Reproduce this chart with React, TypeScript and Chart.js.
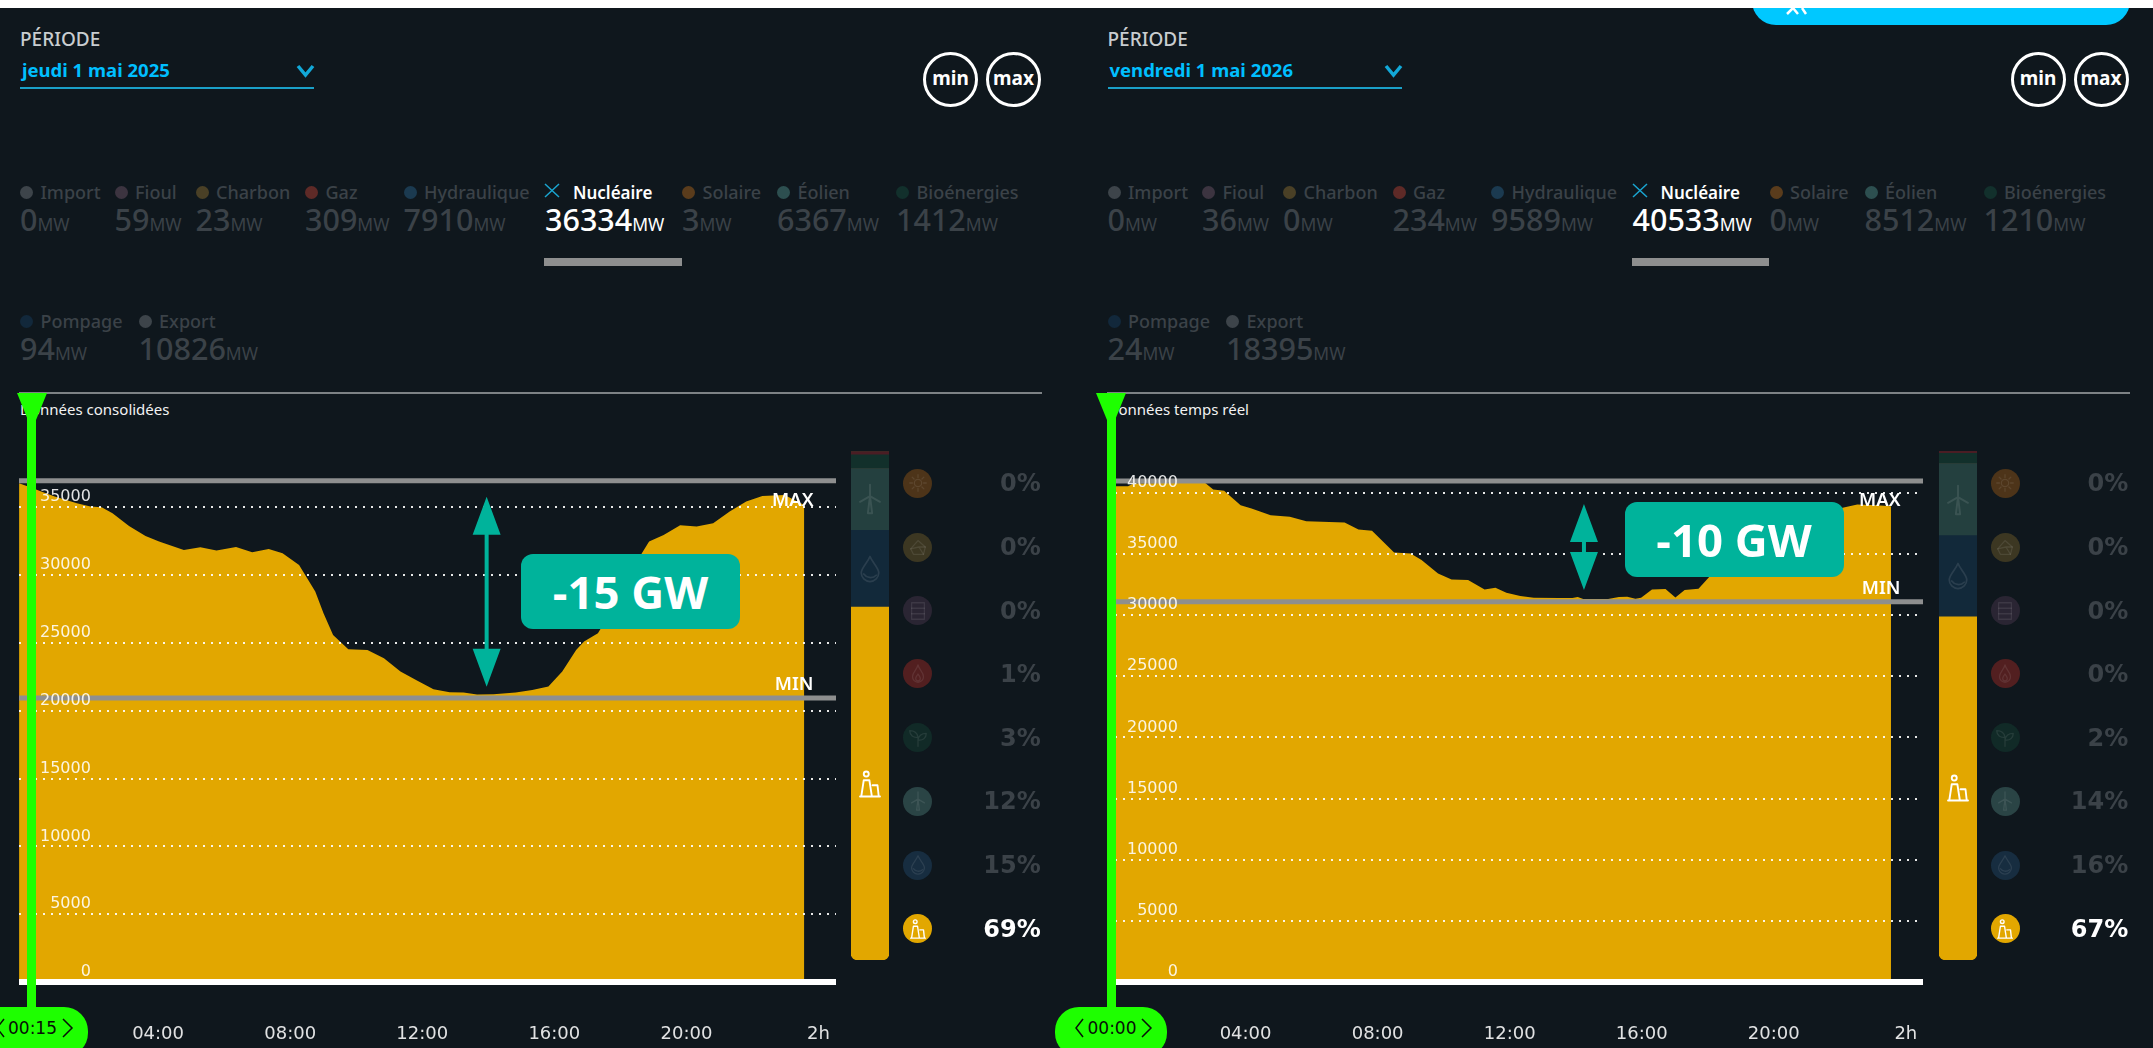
import React, { useEffect, useRef } from "react";
import { Chart, registerables } from "chart.js";

Chart.register(...registerables);

const hours2025 = [-0.21, 0.21, 0.46, 0.87, 1.54, 1.95, 2.29, 2.62, 3.12, 3.62, 4.03, 4.78, 5.28, 5.77, 6.36, 6.85, 7.35, 7.77, 8.27, 8.76, 9.01, 9.3, 9.76, 10.34, 10.84, 11.34, 11.84, 12.34, 12.83, 13.25, 13.66, 14.16, 14.83, 15.33, 15.82, 16.24, 16.66, 16.9, 17.32, 17.99, 18.4, 18.65, 18.87, 19.31, 19.81, 20.31, 20.81, 21.31, 21.81, 22.3, 22.97, 23.57];
const nuclear2025 = [36772, 36403, 36157, 35788, 35297, 35051, 35002, 34559, 33625, 32888, 32470, 31856, 32052, 31807, 32077, 31684, 31929, 31610, 30750, 28783, 27185, 25588, 24531, 24482, 23867, 22884, 22220, 21581, 21360, 21335, 21188, 21213, 21335, 21532, 21778, 22884, 24482, 25096, 25711, 28414, 30381, 31610, 32470, 32962, 33675, 33576, 33822, 34682, 35420, 35838, 35911, 35174];

const hours2026 = [0.06, 0.44, 0.61, 1.85, 2.77, 3.02, 3.35, 3.85, 4.18, 4.76, 5.34, 5.84, 7.0, 7.42, 7.83, 8.5, 9.0, 9.33, 9.83, 10.24, 10.74, 11.24, 11.57, 11.9, 12.32, 12.73, 13.48, 13.9, 14.06, 14.23, 14.98, 15.31, 15.56, 15.81, 15.98, 16.31, 16.72, 17.02, 17.3, 17.72, 18.05, 18.63, 19.3, 19.96, 20.62, 21.29, 22.12, 22.53, 23.12, 23.55];
const nuclear2026 = [40535, 40535, 40752, 40807, 40807, 40262, 40153, 38983, 38710, 38166, 38029, 37676, 37566, 36995, 36886, 35116, 35034, 34490, 33400, 32910, 32856, 32093, 32230, 31821, 31549, 31413, 31385, 31385, 31467, 31304, 31304, 31467, 31494, 31331, 31413, 32093, 32121, 31440, 32039, 32148, 33128, 34490, 35579, 36532, 37349, 38166, 38792, 39037, 38983, 38901];

const tickHours = [4, 8, 12, 16, 20, 24];
const tickLabels = ["04:00", "08:00", "12:00", "16:00", "20:00", "2h"];
const yTicks2025 = [0, 5000, 10000, 15000, 20000, 25000, 30000, 35000];
const yTicks2026 = [0, 5000, 10000, 15000, 20000, 25000, 30000, 35000, 40000];

const legendRow1 = ["Import", "Fioul", "Charbon", "Gaz", "Hydraulique", "Nucléaire", "Solaire", "Éolien", "Bioénergies"];
const legendRow2 = ["Pompage", "Export"];
const legendColors: Record<string, string> = {
  Import: "#3d444a", Fioul: "#3c3440", Charbon: "#4a4026", Gaz: "#5e2a27", Hydraulique: "#1b3a50",
  Solaire: "#5a3c1c", Éolien: "#2d4f50", Bioénergies: "#12302c", Pompage: "#12283b", Export: "#3d444a",
};
const mw2025: Record<string, number> = { Import: 0, Fioul: 59, Charbon: 23, Gaz: 309, Hydraulique: 7910, Nucléaire: 36334, Solaire: 3, Éolien: 6367, Bioénergies: 1412, Pompage: 94, Export: 10826 };
const mw2026: Record<string, number> = { Import: 0, Fioul: 36, Charbon: 0, Gaz: 234, Hydraulique: 9589, Nucléaire: 40533, Solaire: 0, Éolien: 8512, Bioénergies: 1210, Pompage: 24, Export: 18395 };

const shareRows = ["Solaire", "Charbon", "Fioul", "Gaz", "Bioénergies", "Éolien", "Hydraulique", "Nucléaire"];
const shareRowColors = ["#4d3419", "#3c3722", "#2a2533", "#521f20", "#112a27", "#2a4445", "#172d40", "#e2a700"];
const shares2025 = [0, 0, 0, 1, 3, 12, 15, 69];
const shares2026 = [0, 0, 0, 0, 2, 14, 16, 67];

const stackSources = ["Nucléaire", "Hydraulique", "Éolien", "Solaire", "Bioénergies", "Gaz", "Charbon", "Fioul"];
const stackColors = ["#e2a700", "#12293a", "#24403f", "#5c3d1e", "#12302b", "#4a1d24", "#3a3520", "#2e2535"];

const BG = "#0f171d";
const ORANGE = "#e2a700";
const GREEN = "#1eff00";
const TEAL = "#00b39b";
const GREY = "#8e8f8f";
const DIM = "#3b4248";
const SANS = "'Noto Sans', sans-serif";
const WIDE = "'DejaVu Sans', sans-serif";

function T({ x, y, size, weight = 400, color = "#fff", align = "left", font = SANS, children }: any) {
  const tx = align === "right" ? "-100%" : align === "center" ? "-50%" : "0";
  return (
    <div style={{ position: "absolute", left: x, top: y, transform: `translate(${tx},-50%)`, fontSize: size, fontWeight: weight, color, fontFamily: font, lineHeight: 1, whiteSpace: "nowrap" }}>
      {children}
    </div>
  );
}

function AreaChart({ c }: any) {
  const ref = useRef<HTMLCanvasElement>(null);
  useEffect(() => {
    const arrowPlugin = {
      id: "arrow",
      afterDraw(chart: any) {
        const { ctx, scales } = chart;
        const ax = scales.x.getPixelForValue(c.arrowHour);
        const t = scales.y.getPixelForValue(c.arrowTop);
        const b = scales.y.getPixelForValue(c.arrowBottom);
        const head = 38;
        const hw = 14;
        ctx.save();
        ctx.fillStyle = TEAL;
        ctx.fillRect(ax - 2, t + head - 1, 4, b - t - 2 * head + 2);
        ctx.beginPath();
        ctx.moveTo(ax, t);
        ctx.lineTo(ax + hw, t + head);
        ctx.lineTo(ax - hw, t + head);
        ctx.closePath();
        ctx.moveTo(ax, b);
        ctx.lineTo(ax + hw, b - head);
        ctx.lineTo(ax - hw, b - head);
        ctx.closePath();
        ctx.fill();
        ctx.restore();
      },
    };
    const line = (v: number, color: string, width: number) => ({
      data: [{ x: c.xMin, y: v }, { x: c.xMax, y: v }],
      borderColor: color,
      borderWidth: width,
      borderCapStyle: "butt",
      pointRadius: 0,
      fill: false,
      clip: false,
    });
    const chart = new Chart(ref.current as HTMLCanvasElement, {
      type: "line",
      data: {
        datasets: [
          line(0, "#ffffff", 6),
          line(c.maxLine, GREY, 5),
          line(c.minLine, GREY, 5),
          {
            data: c.hours.map((h: number, i: number) => ({ x: h, y: c.values[i] })),
            borderWidth: 0,
            pointRadius: 0,
            tension: 0,
            backgroundColor: ORANGE,
            fill: "origin",
          },
        ],
      },
      options: {
        animation: false,
        responsive: false,
        layout: { padding: { left: c.padLeft, right: c.padRight, top: c.padTop, bottom: 0 } },
        plugins: { legend: { display: false }, tooltip: { enabled: false } },
        scales: {
          x: {
            type: "linear",
            min: c.xMin,
            max: c.xMax,
            afterBuildTicks: (s: any) => { s.ticks = tickHours.map((value) => ({ value })); },
            afterFit: (s: any) => { s.height = 66; },
            grid: { display: false },
            border: { display: false },
            ticks: {
              autoSkip: false,
              maxRotation: 0,
              padding: 34,
              color: "rgba(255,255,255,0.88)",
              font: { family: "DejaVu Sans", size: 18 },
              callback: (v: any) => tickLabels[tickHours.indexOf(v)],
            },
          },
          y: {
            min: 0,
            max: c.yMax,
            afterBuildTicks: (s: any) => { s.ticks = c.yTicks.map((value: number) => ({ value })); },
            afterFit: (s: any) => { s.width = 0; },
            grid: {
              color: (ctx: any) => (ctx.tick && ctx.tick.value === 0 ? "rgba(0,0,0,0)" : "rgba(255,255,255,0.9)"),
              lineWidth: 2,
              z: 1,
              drawTicks: false,
            },
            border: { display: false, dash: [2, 6] },
            ticks: {
              autoSkip: false,
              mirror: true,
              crossAlign: "far",
              padding: c.tickPad,
              labelOffset: -10,
              z: 1,
              color: "rgba(255,255,255,0.88)",
              font: { family: "DejaVu Sans", size: 16 },
              callback: (v: any) => String(v),
            },
          },
        },
      },
      plugins: [arrowPlugin],
    } as any);
    return () => chart.destroy();
  }, []);
  return <canvas ref={ref} width={c.canvasW} height={1048} style={{ position: "absolute", left: c.canvasX, top: 0 }} />;
}

function MixBar({ x, mw }: any) {
  const ref = useRef<HTMLCanvasElement>(null);
  useEffect(() => {
    const total = stackSources.reduce((s, k) => s + mw[k], 0);
    const chart = new Chart(ref.current as HTMLCanvasElement, {
      type: "bar",
      data: {
        labels: ["mix"],
        datasets: stackSources.map((k, i) => ({
          label: k,
          data: [mw[k]],
          backgroundColor: stackColors[i],
          barPercentage: 1,
          categoryPercentage: 1,
          borderSkipped: false,
          borderRadius: i === 0 ? { topLeft: 0, topRight: 0, bottomLeft: 7, bottomRight: 7 } : 0,
        })),
      },
      options: {
        animation: false,
        responsive: false,
        plugins: { legend: { display: false }, tooltip: { enabled: false } },
        scales: {
          x: { stacked: true, display: false },
          y: { stacked: true, display: false, min: 0, max: total },
        },
      },
    } as any);
    return () => chart.destroy();
  }, []);
  return <canvas ref={ref} width={38} height={509} style={{ position: "absolute", left: x, top: 451 }} />;
}

function Icon({ name, cx, cy, size = 22, color = "rgba(255,255,255,0.09)" }: any) {
  const common = { fill: "none", stroke: color, strokeWidth: 1.4, strokeLinecap: "round", strokeLinejoin: "round" } as any;
  const parts: any = {
    Solaire: <g {...common}><circle cx="12" cy="12" r="4" /><path d="M12 3v3M12 18v3M3 12h3M18 12h3M5.6 5.6l2.1 2.1M16.3 16.3l2.1 2.1M5.6 18.4l2.1-2.1M16.3 7.7l2.1-2.1" /></g>,
    Charbon: <g {...common}><path d="M4 14l8-9 8 7-2 8H7z" /><path d="M4 14l9-2 5 8M13 12l7 0" /></g>,
    Fioul: <g {...common}><rect x="5" y="3" width="14" height="18" /><path d="M5 9h14M5 15h14" /></g>,
    Gaz: <g {...common}><path d="M12 2c1 5 6 8 6 13a6 6 0 0 1-12 0c0-5 5-8 6-13z" /><path d="M12 12c1 2 2.500 3 2.500 5a2.500 2.500 0 0 1-5 0c0-2 1.500-3 2.500-5z" /></g>,
    Bioénergies: <g {...common}><path d="M12 21v-10M12 11C11 6 7 4 3 4c0 5 4 8 9 7zM12 14c1-5 5-7 9-7 0 5-4 8-9 7z" /></g>,
    Éolien: <g {...common}><path d="M12 10L10.500 22h3L12 10zM12 10L12 2M12 10L19 14M12 10L5 14" /></g>,
    Hydraulique: <g {...common}><path d="M12 2c2 5 7 9 7 13a7 7 0 0 1-14 0c0-4 5-8 7-13z" /><path d="M7 16c2 3 7 4 10 1" /></g>,
    Nucléaire: <g fill="none" stroke="#fff" strokeWidth={1.5} strokeLinecap="round" strokeLinejoin="round"><circle cx="9" cy="4" r="2" /><path d="M5 22l2-13h4.500l2 13zM14 13h4l1 9h-5M4 22h16" /></g>,
  };
  return (
    <svg width={size} height={size} viewBox="0 0 24 24" style={{ position: "absolute", left: cx - size / 2, top: cy - size / 2 }}>
      {parts[name]}
    </svg>
  );
}

function LegendItem({ name, x, y, mw }: any) {
  const on = name === "Nucléaire";
  return (
    <>
      {on ? (
        <svg width={16} height={15} style={{ position: "absolute", left: x - 1, top: y - 9 }}>
          <path d="M1 1L15 14M15 1L1 14" stroke="#1aa5d0" strokeWidth={1.5} fill="none" />
        </svg>
      ) : (
        <div style={{ position: "absolute", left: x, top: y - 6, width: 13, height: 13, borderRadius: "50%", background: legendColors[name] }} />
      )}
      <T x={x + (on ? 28 : 20.5)} y={y} size={on ? 17 : 18} weight={on ? 600 : 500} color={on ? "#fff" : DIM}>{name}</T>
      <T x={x} y={y + 27} size={30.5} weight={500} color={on ? "#fff" : DIM}>
        {mw[name]}<span style={{ fontSize: 17.5, fontWeight: 400 }}>MW</span>
      </T>
    </>
  );
}

const row1Offsets = [0, 94.6, 175.6, 285, 383.6, 525, 662, 757, 876];
const row2Offsets = [0, 118.6];
const shareRowY = [483, 547, 610.5, 673.6, 737.5, 801, 865, 928.6];

function Panel({ dx, date, mw, shares, dataLabel, time, cursorX, chart, box, maxLabel, minLabel }: any) {
  const total = stackSources.reduce((s, k) => s + mw[k], 0);
  const segCenter = (name: string) => {
    let above = 0;
    for (let i = stackSources.length - 1; stackSources[i] !== name; i--) above += mw[stackSources[i]];
    return 451 + ((above + mw[name] / 2) / total) * 509;
  };
  return (
    <>
      <T x={20 + dx} y={39} size={19} weight={500} color="#c9cdd0">PÉRIODE</T>
      <T x={22 + dx} y={70} size={18.5} weight={700} color="#00bfff">{date}</T>
      <div style={{ position: "absolute", left: 20 + dx, top: 87, width: 294, height: 2, background: "#1aa0c8" }} />
      <svg width={20} height={16} style={{ position: "absolute", left: 296 + dx, top: 63 }}>
        <path d="M2 3L9.500 12L17 3" stroke="#12a8d8" strokeWidth={3.5} fill="none" />
      </svg>
      {[{ t: "min", cx: 950.5 }, { t: "max", cx: 1013.5 }].map((b) => (
        <div key={b.t} style={{ position: "absolute", left: b.cx + dx - 27.5, top: 52, width: 55, height: 55, boxSizing: "border-box", border: "3px solid #fff", borderRadius: "50%", color: "#fff", fontFamily: SANS, fontWeight: 700, fontSize: 19, lineHeight: "47px", textAlign: "center" }}>
          {b.t}
        </div>
      ))}

      {legendRow1.map((n, i) => <LegendItem key={n} name={n} x={20 + dx + row1Offsets[i]} y={192} mw={mw} />)}
      {legendRow2.map((n, i) => <LegendItem key={n} name={n} x={20 + dx + row2Offsets[i]} y={321} mw={mw} />)}
      <div style={{ position: "absolute", left: 544 + dx, top: 258, width: 137.5, height: 8, background: GREY }} />
      <div style={{ position: "absolute", left: 19 + dx, top: 392, width: 1023, height: 2, background: "#7d8285" }} />
      <T x={20 + dx} y={409} size={15} color="#f2f2f2">{dataLabel}</T>

      <AreaChart c={chart} />

      <T x={maxLabel[0]} y={maxLabel[1]} size={18.5} weight={600} align="right">MAX</T>
      <T x={minLabel[0]} y={minLabel[1]} size={18.5} weight={600} align="right">MIN</T>

      <div style={{ position: "absolute", left: box.x, top: box.y, width: box.w, height: box.h, borderRadius: 12, background: TEAL }} />
      <T x={box.x + box.w / 2} y={box.y + box.h / 2} size={45.5} weight={700} align="center" font="'Open Sans', sans-serif">{box.text}</T>

      <MixBar x={851 + dx} mw={mw} />
      <Icon name="Éolien" cx={870 + dx} cy={segCenter("Éolien")} size={34} color="rgba(255,255,255,0.1)" />
      <Icon name="Hydraulique" cx={870 + dx} cy={segCenter("Hydraulique")} size={30} color="rgba(255,255,255,0.1)" />
      <Icon name="Nucléaire" cx={870 + dx} cy={segCenter("Nucléaire")} size={30} />

      {shareRows.map((n, i) => (
        <React.Fragment key={n}>
          <div style={{ position: "absolute", left: 903 + dx, top: shareRowY[i] - 14.5, width: 29, height: 29, borderRadius: "50%", background: shareRowColors[i] }} />
          <Icon name={n} cx={917.5 + dx} cy={shareRowY[i]} size={22} />
          <T x={1040.7 + dx} y={shareRowY[i]} size={24} weight={700} align="right" font={WIDE} color={n === "Nucléaire" ? "#fff" : DIM}>
            {shares[i]}%
          </T>
        </React.Fragment>
      ))}

      <svg width={34} height={40} style={{ position: "absolute", left: cursorX - 17, top: 392 }}>
        <polygon points="2,1 32,1 21,28 13,28" fill={GREEN} />
      </svg>
      <div style={{ position: "absolute", left: cursorX - 4.5, top: 415, width: 9, height: 595, background: GREEN }} />
      <div style={{ position: "absolute", left: cursorX - 56, top: 1007, width: 112, height: 50, borderRadius: 24, background: GREEN }} />
      <T x={cursorX + 1} y={1028} size={17} align="center" font={WIDE} color="#071007">{time}</T>
      <svg width={112} height={30} style={{ position: "absolute", left: cursorX - 56, top: 1013 }}>
        <path d="M28 6L21 15L28 24M87 6L96 15L87 24" fill="none" stroke="#071007" strokeWidth={1.5} />
      </svg>
    </>
  );
}

export default function App() {
  useEffect(() => {
    document.body.style.margin = "0";
    document.body.style.overflow = "hidden";
  }, []);
  const chartLeft = {
    hours: hours2025, values: nuclear2025, yTicks: yTicks2025, canvasX: 0, canvasW: 1076, padLeft: 19, padRight: 240, padTop: 453,
    xMin: -0.212, xMax: 24.53, yMax: 39000, maxLine: 36950, minLine: 20940, tickPad: 21,
    arrowHour: 13.95, arrowTop: 35780, arrowBottom: 21770,
  };
  const chartRight = {
    hours: hours2026, values: nuclear2026, yTicks: yTicks2026, canvasX: 1076, canvasW: 1077, padLeft: 39, padRight: 230, padTop: 456,
    xMin: 0.045, xMax: 24.52, yMax: 43000, maxLine: 40950, minLine: 31090, tickPad: 12,
    arrowHour: 14.25, arrowTop: 39075, arrowBottom: 32045,
  };
  return (
    <div style={{ position: "fixed", left: 0, top: 0, width: 2153, height: 1048, overflow: "hidden", background: BG }}>
      <Panel
        dx={0} date="jeudi 1 mai 2025" mw={mw2025} shares={shares2025} dataLabel="Données consolidées" time="00:15" cursorX={31.5}
        chart={chartLeft} box={{ x: 521, y: 554, w: 219, h: 75, text: "-15 GW" }} maxLabel={[813.5, 499]} minLabel={[813.5, 683]}
      />
      <Panel
        dx={1087.5} date="vendredi 1 mai 2026" mw={mw2026} shares={shares2026} dataLabel="Données temps réel" time="00:00" cursorX={1111}
        chart={chartRight} box={{ x: 1624.5, y: 502, w: 219, h: 75, text: "-10 GW" }} maxLabel={[1900.5, 499]} minLabel={[1900.5, 587]}
      />
      <div style={{ position: "absolute", left: 1752, top: -30, width: 378, height: 55, borderRadius: 24, background: "#00c8ff" }} />
      <svg width={40} height={8} style={{ position: "absolute", left: 1784, top: 7 }}>
        <path d="M3 7L9 1L14 7M18 1L22 7" fill="none" stroke="#fff" strokeWidth={2.5} />
      </svg>
      <div style={{ position: "absolute", left: 0, top: 0, width: 2153, height: 8, background: "#fff" }} />
    </div>
  );
}
